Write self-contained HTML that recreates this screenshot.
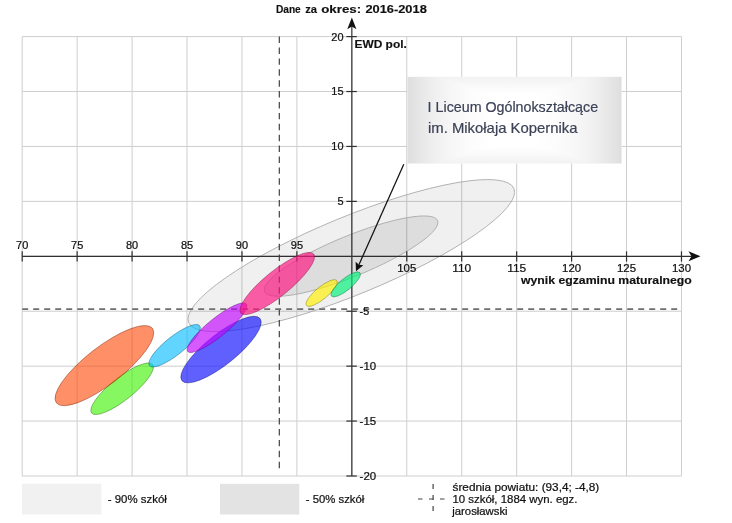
<!DOCTYPE html>
<html><head><meta charset="utf-8"><title>EWD</title>
<style>
html,body{margin:0;padding:0;background:#fff;}
body{width:732px;height:523px;overflow:hidden;font-family:"Liberation Sans",sans-serif;}
svg{display:block;}
text{font-family:"Liberation Sans",sans-serif;}
.tx{opacity:0.999;}
</style></head><body>
<svg class="tx" width="732" height="523" viewBox="0 0 732 523">
<defs>
<linearGradient id="gx" x1="0" y1="0" x2="1" y2="0"><stop offset="0" stop-color="#dededf"/><stop offset="0.06" stop-color="#e7e7e8"/><stop offset="0.12" stop-color="#efeff0"/><stop offset="0.2" stop-color="#f6f6f7"/><stop offset="0.3" stop-color="#fcfcfd"/><stop offset="0.4" stop-color="#ffffff"/><stop offset="0.6" stop-color="#ffffff"/><stop offset="0.7" stop-color="#fcfcfd"/><stop offset="0.8" stop-color="#f6f6f7"/><stop offset="0.88" stop-color="#efeff0"/><stop offset="0.94" stop-color="#e7e7e8"/><stop offset="1" stop-color="#dededf"/></linearGradient>
<linearGradient id="gy" x1="0" y1="0" x2="0" y2="1"><stop offset="0" stop-color="#f2f2f3"/><stop offset="0.1" stop-color="#f9f9fa"/><stop offset="0.2" stop-color="#ffffff"/><stop offset="0.8" stop-color="#ffffff"/><stop offset="0.9" stop-color="#f9f9fa"/><stop offset="1" stop-color="#f2f2f3"/></linearGradient>
</defs>
<rect width="732" height="523" fill="#fff"/>

<g stroke="#cecece" stroke-width="1" fill="none">
<line x1="22.2" y1="36.6" x2="22.2" y2="476.0"/>
<line x1="77.14" y1="36.6" x2="77.14" y2="476.0"/>
<line x1="132.08" y1="36.6" x2="132.08" y2="476.0"/>
<line x1="187.02" y1="36.6" x2="187.02" y2="476.0"/>
<line x1="241.96" y1="36.6" x2="241.96" y2="476.0"/>
<line x1="296.9" y1="36.6" x2="296.9" y2="476.0"/>
<line x1="351.84" y1="36.6" x2="351.84" y2="476.0"/>
<line x1="406.78" y1="36.6" x2="406.78" y2="476.0"/>
<line x1="461.72" y1="36.6" x2="461.72" y2="476.0"/>
<line x1="516.66" y1="36.6" x2="516.66" y2="476.0"/>
<line x1="571.6" y1="36.6" x2="571.6" y2="476.0"/>
<line x1="626.54" y1="36.6" x2="626.54" y2="476.0"/>
<line x1="681.48" y1="36.6" x2="681.48" y2="476.0"/>
<line x1="22.2" y1="36.6" x2="681.48" y2="36.6"/>
<line x1="22.2" y1="91.53" x2="681.48" y2="91.53"/>
<line x1="22.2" y1="146.45" x2="681.48" y2="146.45"/>
<line x1="22.2" y1="201.38" x2="681.48" y2="201.38"/>
<line x1="22.2" y1="256.3" x2="681.48" y2="256.3"/>
<line x1="22.2" y1="311.23" x2="681.48" y2="311.23"/>
<line x1="22.2" y1="366.15" x2="681.48" y2="366.15"/>
<line x1="22.2" y1="421.07" x2="681.48" y2="421.07"/>
<line x1="22.2" y1="476.0" x2="681.48" y2="476.0"/>
</g>
<g stroke="#a8a8a8" stroke-width="0.8">
<ellipse cx="351.3" cy="255.6" rx="175.9" ry="38.8" transform="rotate(-22.4 351.3 255.6)" fill="#000" fill-opacity="0.06"/>
<ellipse cx="351.1" cy="256.1" rx="93.5" ry="20.3" transform="rotate(-22.3 351.1 256.1)" fill="#000" fill-opacity="0.078"/>
</g>
<g stroke="#303030" stroke-width="1.2" fill="none">
<line x1="22.2" y1="256.3" x2="692" y2="256.3"/>
<line x1="351.84" y1="476.0" x2="351.84" y2="26"/>
<line x1="22.2" y1="251.3" x2="22.2" y2="261.6"/>
<line x1="77.14" y1="251.3" x2="77.14" y2="261.6"/>
<line x1="132.08" y1="251.3" x2="132.08" y2="261.6"/>
<line x1="187.02" y1="251.3" x2="187.02" y2="261.6"/>
<line x1="241.96" y1="251.3" x2="241.96" y2="261.6"/>
<line x1="296.9" y1="251.3" x2="296.9" y2="261.6"/>
<line x1="406.78" y1="251.3" x2="406.78" y2="261.6"/>
<line x1="461.72" y1="251.3" x2="461.72" y2="261.6"/>
<line x1="516.66" y1="251.3" x2="516.66" y2="261.6"/>
<line x1="571.6" y1="251.3" x2="571.6" y2="261.6"/>
<line x1="626.54" y1="251.3" x2="626.54" y2="261.6"/>
<line x1="681.48" y1="251.3" x2="681.48" y2="261.6"/>
<line x1="346.34" y1="36.6" x2="356.84" y2="36.6"/>
<line x1="346.34" y1="91.53" x2="356.84" y2="91.53"/>
<line x1="346.34" y1="146.45" x2="356.84" y2="146.45"/>
<line x1="346.34" y1="201.38" x2="356.84" y2="201.38"/>
<line x1="346.34" y1="311.23" x2="356.84" y2="311.23"/>
<line x1="346.34" y1="366.15" x2="356.84" y2="366.15"/>
<line x1="346.34" y1="421.07" x2="356.84" y2="421.07"/>
<line x1="346.34" y1="476.0" x2="356.84" y2="476.0"/>
</g>
<path d="M351.84 17.6 L347.24 29.2 L351.84 26.6 L356.44 29.2 Z" fill="#111"/>
<path d="M700.5 256.3 L688.5 251.3 L691.5 256.3 L688.5 261.3 Z" fill="#111"/>
<line x1="279.3" y1="36.6" x2="279.3" y2="471" stroke="#3a3a3a" stroke-width="1.15" stroke-dasharray="6.45 4.45" fill="none"/>
<line x1="22.2" y1="309.2" x2="681.48" y2="309.2" stroke="#6e6e6e" stroke-width="1.7" stroke-dasharray="6 5" fill="none"/>
<g stroke-width="0.8" stroke-opacity="0.5">
<ellipse cx="122.1" cy="388.75" rx="39.0" ry="11.2" transform="rotate(-38.5 122.1 388.75)" fill="#3cf000" fill-opacity="0.62" stroke="#1b6c00"/>
<ellipse cx="104.4" cy="365.6" rx="60.8" ry="18.7" transform="rotate(-37.8 104.4 365.6)" fill="#ff4500" fill-opacity="0.6" stroke="#721f00"/>
<ellipse cx="174.6" cy="345.75" rx="32.1" ry="9.2" transform="rotate(-38.5 174.6 345.75)" fill="#00bbff" fill-opacity="0.62" stroke="#005472"/>
<ellipse cx="221.0" cy="349.6" rx="49.9" ry="15.2" transform="rotate(-38.5 221.0 349.6)" fill="#1414ff" fill-opacity="0.68" stroke="#090972"/>
<ellipse cx="217.0" cy="327.7" rx="37.7" ry="9.3" transform="rotate(-39.0 217.0 327.7)" fill="#c205ff" fill-opacity="0.66" stroke="#570272"/>
<ellipse cx="277.25" cy="283.5" rx="46.9" ry="12.6" transform="rotate(-39.0 277.25 283.5)" fill="#ff1482" fill-opacity="0.68" stroke="#72093a"/>
<ellipse cx="321.65" cy="293.05" rx="19.6" ry="6.1" transform="rotate(-39.5 321.65 293.05)" fill="#fff000" fill-opacity="0.66" stroke="#726c00"/>
<ellipse cx="345.7" cy="284.4" rx="18.4" ry="5.8" transform="rotate(-39.5 345.7 284.4)" fill="#00f078" fill-opacity="0.67" stroke="#006c36"/>
</g>
<text x="16.1" y="248.7" font-size="10.5" fill="#111" textLength="12.2" lengthAdjust="spacingAndGlyphs" stroke="#111" stroke-width="0.22">70</text>
<text x="71.04" y="248.7" font-size="10.5" fill="#111" textLength="12.2" lengthAdjust="spacingAndGlyphs" stroke="#111" stroke-width="0.22">75</text>
<text x="125.98" y="248.7" font-size="10.5" fill="#111" textLength="12.2" lengthAdjust="spacingAndGlyphs" stroke="#111" stroke-width="0.22">80</text>
<text x="180.92" y="248.7" font-size="10.5" fill="#111" textLength="12.2" lengthAdjust="spacingAndGlyphs" stroke="#111" stroke-width="0.22">85</text>
<text x="235.86" y="248.7" font-size="10.5" fill="#111" textLength="12.2" lengthAdjust="spacingAndGlyphs" stroke="#111" stroke-width="0.22">90</text>
<text x="290.8" y="248.7" font-size="10.5" fill="#111" textLength="12.2" lengthAdjust="spacingAndGlyphs" stroke="#111" stroke-width="0.22">95</text>
<text x="397.28" y="271.6" font-size="10.5" fill="#111" textLength="19.0" lengthAdjust="spacingAndGlyphs" stroke="#111" stroke-width="0.22">105</text>
<text x="452.22" y="271.6" font-size="10.5" fill="#111" textLength="19.0" lengthAdjust="spacingAndGlyphs" stroke="#111" stroke-width="0.22">110</text>
<text x="507.16" y="271.6" font-size="10.5" fill="#111" textLength="19.0" lengthAdjust="spacingAndGlyphs" stroke="#111" stroke-width="0.22">115</text>
<text x="562.1" y="271.6" font-size="10.5" fill="#111" textLength="19.0" lengthAdjust="spacingAndGlyphs" stroke="#111" stroke-width="0.22">120</text>
<text x="617.04" y="271.6" font-size="10.5" fill="#111" textLength="19.0" lengthAdjust="spacingAndGlyphs" stroke="#111" stroke-width="0.22">125</text>
<text x="671.98" y="271.6" font-size="10.5" fill="#111" textLength="19.0" lengthAdjust="spacingAndGlyphs" stroke="#111" stroke-width="0.22">130</text>
<text x="331.3" y="40.5" font-size="10.5" fill="#111" textLength="12.2" lengthAdjust="spacingAndGlyphs" stroke="#111" stroke-width="0.22">20</text>
<text x="331.3" y="95.43" font-size="10.5" fill="#111" textLength="12.2" lengthAdjust="spacingAndGlyphs" stroke="#111" stroke-width="0.22">15</text>
<text x="331.3" y="150.35" font-size="10.5" fill="#111" textLength="12.2" lengthAdjust="spacingAndGlyphs" stroke="#111" stroke-width="0.22">10</text>
<text x="337.4" y="205.28" font-size="10.5" fill="#111" textLength="6.1" lengthAdjust="spacingAndGlyphs" stroke="#111" stroke-width="0.22">5</text>
<text x="359.6" y="315.13" font-size="10.5" fill="#111" textLength="9.6" lengthAdjust="spacingAndGlyphs" stroke="#111" stroke-width="0.22">-5</text>
<text x="359.6" y="370.05" font-size="10.5" fill="#111" textLength="16.6" lengthAdjust="spacingAndGlyphs" stroke="#111" stroke-width="0.22">-10</text>
<text x="359.6" y="424.97" font-size="10.5" fill="#111" textLength="16.6" lengthAdjust="spacingAndGlyphs" stroke="#111" stroke-width="0.22">-15</text>
<text x="359.6" y="479.9" font-size="10.5" fill="#111" textLength="16.6" lengthAdjust="spacingAndGlyphs" stroke="#111" stroke-width="0.22">-20</text>
<text x="275.9" y="13.2" font-size="10.8" fill="#111" font-weight="bold" textLength="24.9" lengthAdjust="spacingAndGlyphs" stroke="#111" stroke-width="0.15">Dane</text>
<text x="305.2" y="13.2" font-size="10.8" fill="#111" font-weight="bold" textLength="11.8" lengthAdjust="spacingAndGlyphs" stroke="#111" stroke-width="0.15">za</text>
<text x="321.2" y="13.2" font-size="10.8" fill="#111" font-weight="bold" textLength="40.0" lengthAdjust="spacingAndGlyphs" stroke="#111" stroke-width="0.15">okres:</text>
<text x="365.4" y="13.2" font-size="10.8" fill="#111" font-weight="bold" textLength="61.4" lengthAdjust="spacingAndGlyphs" stroke="#111" stroke-width="0.15">2016-2018</text>
<text x="354.5" y="47.5" font-size="10.8" fill="#111" font-weight="bold" textLength="52.3" lengthAdjust="spacingAndGlyphs" stroke="#111" stroke-width="0.15">EWD pol.</text>
<text x="521" y="283.6" font-size="10.8" fill="#111" font-weight="bold" textLength="170.8" lengthAdjust="spacingAndGlyphs" stroke="#111" stroke-width="0.15">wynik egzaminu maturalnego</text>
<g style="isolation:isolate"><rect x="407.5" y="76.9" width="214" height="86.5" fill="url(#gx)"/><rect x="407.5" y="76.9" width="214" height="86.5" fill="url(#gy)" style="mix-blend-mode:darken"/></g>
<text x="427.6" y="112.0" font-size="14.2" fill="#3c4356" textLength="170.5" lengthAdjust="spacingAndGlyphs" stroke="#3c4356" stroke-width="0.2">I Liceum Ogólnokształcące</text>
<text x="428.0" y="132.6" font-size="14.2" fill="#3c4356" textLength="149.5" lengthAdjust="spacingAndGlyphs" stroke="#3c4356" stroke-width="0.2">im. Mikołaja Kopernika</text>
<line x1="403.8" y1="164.3" x2="358.94" y2="264.73" stroke="#111" stroke-width="1.25"/>
<path d="M356.0 271.3 L355.63 261.83 L358.94 264.73 L363.30 265.25 Z" fill="#111"/>
<rect x="22" y="483.8" width="79.3" height="30.7" fill="#f1f1f1"/>
<rect x="220" y="483.8" width="79.3" height="30.7" fill="#e3e3e3"/>
<text x="107.8" y="503" font-size="11" fill="#111" textLength="59" lengthAdjust="spacingAndGlyphs" stroke="#111" stroke-width="0.22">- 90% szkół</text>
<text x="305.8" y="503" font-size="11" fill="#111" textLength="58.5" lengthAdjust="spacingAndGlyphs" stroke="#111" stroke-width="0.22">- 50% szkół</text>
<text x="452.5" y="490.9" font-size="11" fill="#111" textLength="146.8" lengthAdjust="spacingAndGlyphs" stroke="#111" stroke-width="0.22">średnia powiatu: (93,4; -4,8)</text>
<text x="452.5" y="502.9" font-size="11" fill="#111" textLength="125" lengthAdjust="spacingAndGlyphs" stroke="#111" stroke-width="0.22">10 szkół, 1884 wyn. egz.</text>
<text x="452.3" y="514.6" font-size="11" fill="#111" textLength="55.3" lengthAdjust="spacingAndGlyphs" stroke="#111" stroke-width="0.22">jarosławski</text>
<g stroke="#444" stroke-width="1.2" fill="none">
<line x1="433.1" y1="484" x2="433.1" y2="511" stroke-dasharray="5 6"/>
<line x1="418" y1="499" x2="445.5" y2="499" stroke-dasharray="4.5 6.5"/>
</g>
</svg>
</body></html>
